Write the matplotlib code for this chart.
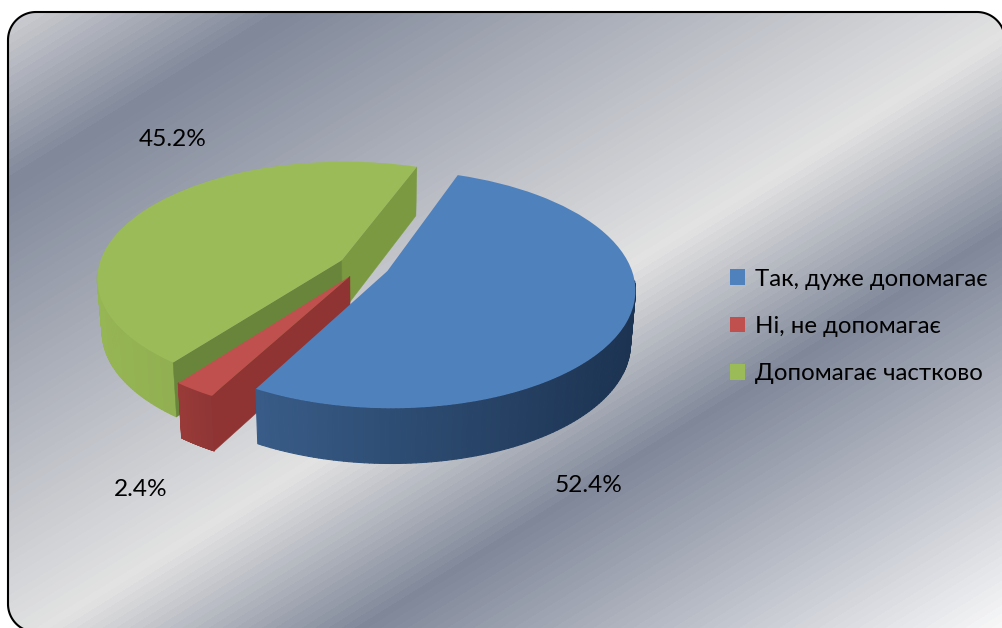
import numpy as np
import matplotlib
matplotlib.use("Agg")
import matplotlib.pyplot as plt
from matplotlib.collections import PolyCollection
from matplotlib.patches import Patch, Polygon
from matplotlib.path import Path
from matplotlib.transforms import Transform

categories = ["Так, дуже допомагає", "Ні, не допомагає", "Допомагає частково"]
values = [52.4, 2.4, 45.2]
value_labels = ["52.4%", "2.4%", "45.2%"]
colors = ["#4F81BD", "#C0504D", "#9BBB59"]

plt.rcParams["font.family"] = ["Lato", "Open Sans", "DejaVu Sans"]
W, H = 1003, 628
CX, CY, A, B, K, D = 364.0, 266.0, 243.0, 115.0, 0.15, 52.0


class Persp(Transform):
    input_dims = output_dims = 2
    is_separable = False
    has_inverse = False

    def transform_non_affine(self, values):
        values = np.asarray(values, float)
        w = 1 + K * values[:, 1]
        return np.column_stack([CX + A * values[:, 0] / w, CY - B * values[:, 1] / w])

    def transform_path_non_affine(self, path):
        return Path(self.transform_non_affine(path.vertices), path.codes)


persp = Persp()
fig = plt.figure(figsize=(W / 100, H / 100), dpi=100, facecolor="white")
ax = fig.add_axes([0, 0, 1, 1])

wedges, _ = ax.pie(values, colors=colors, startangle=70, counterclock=False,
                   explode=[0.105] * 3, radius=1)
ax.set_aspect("auto")
ax.axis("off")

# background: diagonal banded gradient inside a rounded frame
yy, xx = np.mgrid[0:H:H * 1j, 0:W:W * 1j]
t = np.floor((xx * 0.527 + yy * 0.85) / 7) * 7
stops = [0, 157, 556, 722, 1063]
rgb = [(.84, .84, .85), (.50, .53, .60), (.89, .89, .89), (.50, .53, .60), (.98, .98, .98)]
img = np.dstack([np.interp(t, stops, [c[i] for c in rgb]) for i in range(3)])


def arc(cx, cy, a0, a1, r=28):
    a = np.radians(np.linspace(a0, a1, 30))
    return np.column_stack([cx + r * np.cos(a), cy + r * np.sin(a)])


outline = np.vstack([arc(36, 604, 90, 180), arc(36, 40, 180, 270), arc(977, 40, 270, 360),
                     [[1005, 632]]])
bg = ax.imshow(img, extent=(0, W, H, 0), aspect="auto", zorder=0)
clip = Polygon(outline, closed=True, fc="none", ec="none", transform=ax.transData)
ax.add_patch(clip)
bg.set_clip_path(clip)
ax.plot(outline[:-1, 0], outline[:-1, 1], color="black", lw=1.5, zorder=1)
ax.set_xlim(0, W)
ax.set_ylim(H, 0)


def top(u, v):
    return persp.transform(np.column_stack([u, v]))


def bottom(u, v):
    p = top(u, v)
    p[:, 1] += D * (1 - 0.06 * np.asarray(v))
    p[:, 0] += (CX - p[:, 0]) * 0.018
    return p


def wall(u0, v0, u1, v1, color, z):
    u, v = np.array([u0, u1]), np.array([v0, v1])
    poly = np.vstack([top(u, v), bottom(u, v)[::-1]])
    ax.add_patch(Polygon(poly, closed=True, fc=color, ec=color, lw=0.3, zorder=z))


def rim(w, left, right, z):
    th = np.radians(np.linspace(w.theta1, w.theta2, 180))
    u = w.center[0] + w.r * np.cos(th)
    v = w.center[1] + w.r * np.sin(th)
    pt, pb = top(u, v), bottom(u, v)
    segs, cols = [], []
    xmin, xmax = pt[:, 0].min(), pt[:, 0].max()
    for i in range(len(th) - 1):
        if np.sin(th[i]) > -0.1:      # back of the rim is hidden
            continue
        segs.append([pt[i], pt[i + 1], pb[i + 1], pb[i]])
        f = (pt[i, 0] - xmin) / (xmax - xmin)
        cols.append(np.array(left) * (1 - f) + np.array(right) * f)
    ax.add_collection(PolyCollection(segs, facecolors=cols, edgecolors=cols, lw=0.8, zorder=z))


def corner(w, theta):
    a = np.radians(theta)
    return w.center[0] + w.r * np.cos(a), w.center[1] + w.r * np.sin(a)


blue, red, green = wedges
gc, rc = green.center, red.center
# green: back of the drawing
rim(green, (.59, .71, .33), (.50, .62, .27), 2)
wall(*gc, *corner(green, green.theta1), (.48, .60, .25), 3)
wall(*gc, *corner(green, green.theta2), (.41, .52, .23), 3)
# red
rim(red, (.60, .23, .22), (.56, .21, .21), 5)
wall(*rc, *corner(red, red.theta2), (.56, .20, .20), 6)
# blue
rim(blue, (.22, .36, .53), (.11, .20, .32), 8)

for w, z in ((green, 4), (red, 7), (blue, 9)):
    w.set_transform(persp + ax.transData)
    w.set_zorder(z)
    w.set_linewidth(0)
    w.set_clip_on(False)

# value labels
label_pos = [(589, 485), (141, 489), (173, 139)]
for (x, y), s in zip(label_pos, value_labels):
    ax.text(x, y, s, fontsize=17.6, ha="center", va="center", color="black", zorder=12)

handles = [Patch(fc=c, ec="none", label=n) for c, n in zip(colors, categories)]
ax.legend(handles=handles, loc="center left", bbox_to_anchor=(730 / W, 1 - 326.5 / H),
          frameon=False, fontsize=17.3, handlelength=0.625, handleheight=0.625,
          handletextpad=0.42, labelspacing=1.1, borderpad=0, borderaxespad=0)

fig.savefig("out.png", dpi=100, facecolor="white")
